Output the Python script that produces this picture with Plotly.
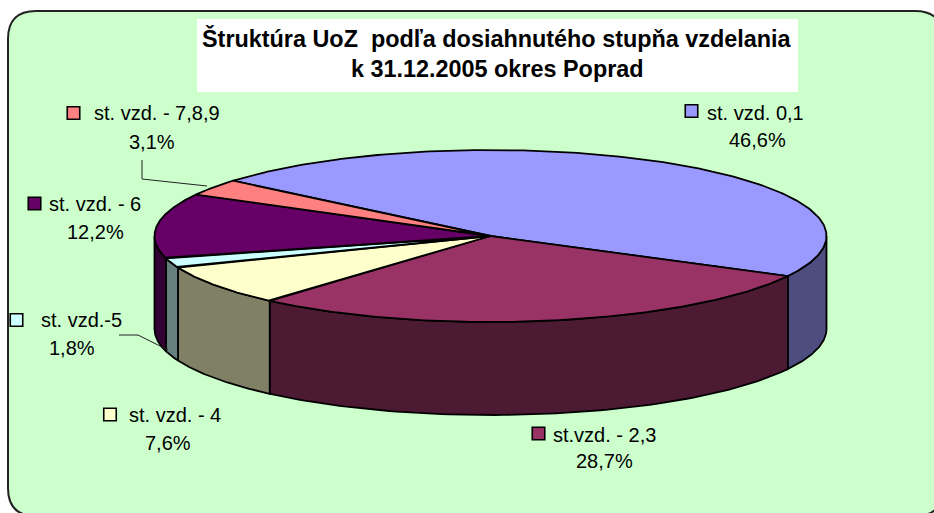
import numpy as np
import plotly.graph_objects as go

# ---- data ----
categories = ["st. vzd. 0,1", "st.vzd. - 2,3", "st. vzd. - 4", "st. vzd.-5", "st. vzd. - 6", "st. vzd. - 7,8,9"]
values = [46.6, 28.7, 7.6, 1.8, 12.2, 3.1]
title_lines = ["Štruktúra UoZ  podľa dosiahnutého stupňa vzdelania", "k 31.12.2005 okres Poprad"]

# ---- style ----
top_colors = ["#9999FF", "#993366", "#FFFFCC", "#CCFFFF", "#660066", "#FF8080"]
side_colors = ["#4D4D80", "#4D1A33", "#808066", "#668080", "#330033", "#804040"]
FONT = "Liberation Sans, Arial, sans-serif"
W, H = 934, 513
CX, CY, RX, RY, DEPTH = 490.5, 236, 336, 86, 93
START = 220   # angle where the first slice begins (clockwise on screen, 0 = east)

# label layout: key x, key y, first-line centre x, first-line y, second-line centre x, second-line y
key_x = [691.5, 538.5, 110, 16.5, 34.5, 73.5]
key_y = [111, 433.5, 414.5, 320, 203.5, 113]
name_x = [755.5, 604.5, 174.5, 81, 94.5, 157]
name_y = [113, 435, 415, 320, 204, 113]
pct_x = [757, 604, 168, 72, 95, 152]
pct_y = [140, 461, 443, 348, 232, 142]

# leader lines
leaders = [([142, 142, 207], [160, 179, 186]), ([119, 138, 168], [335, 335, 350])]


def ell(t, dz=0.0):
    r = np.radians(t)
    return CX + RX * np.cos(r), CY + RY * np.sin(r) + dz


fig = go.Figure()
fractions = np.array(values) / sum(values)
edges = START + np.concatenate([[0], np.cumsum(fractions) * 360])

line = dict(color="black", width=1.8)

# side walls (visible front half only, angles 0..180 mod 360)
for i in range(len(values)):
    a, b = edges[i], edges[i + 1]
    for off in (-360, 0, 360):
        lo, hi = max(a + off, 0), min(b + off, 180)
        if hi > lo:
            t = np.linspace(lo, hi, 80)
            xt, yt = ell(t)
            xb, yb = ell(t[::-1], DEPTH)
            fig.add_trace(go.Scatter(x=np.r_[xt, xb, xt[0]], y=np.r_[yt, yb, yt[0]], mode="lines",
                                     fill="toself", fillcolor=side_colors[i], line=line,
                                     hoverinfo="skip", showlegend=False))

# top faces
for i in range(len(values)):
    t = np.linspace(edges[i], edges[i + 1], 200)
    xt, yt = ell(t)
    fig.add_trace(go.Scatter(x=np.r_[CX, xt, CX], y=np.r_[CY, yt, CY], mode="lines", fill="toself",
                             fillcolor=top_colors[i], line=line, name=categories[i],
                             hoverinfo="skip", showlegend=False))

# leader lines
for lx, ly in leaders:
    fig.add_trace(go.Scatter(x=lx, y=ly, mode="lines", line=dict(color="#222222", width=1),
                             hoverinfo="skip", showlegend=False))

# legend keys
fig.add_trace(go.Scatter(x=key_x, y=key_y, mode="markers",
                         marker=dict(symbol="square", size=12.5, color=top_colors, line=dict(color="black", width=1.6)),
                         hoverinfo="skip", showlegend=False))

ann = []
for i, c in enumerate(categories):
    ann.append(dict(x=name_x[i], y=name_y[i], text=c, showarrow=False, xanchor="center", yanchor="middle",
                    font=dict(family=FONT, size=20, color="black")))
    ann.append(dict(x=pct_x[i], y=pct_y[i], text=f"{values[i]:.1f}%".replace(".", ","), showarrow=False,
                    xanchor="center", yanchor="middle", font=dict(family=FONT, size=20, color="black")))
ann.append(dict(x=497, y=38, text=title_lines[0], showarrow=False, xanchor="center", yanchor="middle",
                font=dict(family=FONT, size=23.4, color="black", weight="bold")))
ann.append(dict(x=497, y=69, text=title_lines[1], showarrow=False, xanchor="center", yanchor="middle",
                font=dict(family=FONT, size=23.4, color="black", weight="bold")))

L, T, R, B, Q = 8, 11, 943, 516, 28
border = (f"M {L+Q} {T} L {R-Q} {T} Q {R} {T} {R} {T+Q} L {R} {B-Q} Q {R} {B} {R-Q} {B} "
          f"L {L+Q} {B} Q {L} {B} {L} {B-Q} L {L} {T+Q} Q {L} {T} {L+Q} {T} Z")
shapes = [
    dict(type="path", path=border, xref="x", yref="y", fillcolor="#CCFFCC", line=dict(color="#222222", width=2), layer="below"),
    dict(type="rect", x0=197, x1=798, y0=19, y1=92, xref="x", yref="y", fillcolor="white", line=dict(width=0), layer="below"),
]

fig.update_layout(
    width=W, height=H, margin=dict(l=0, r=0, t=0, b=0), paper_bgcolor="white", plot_bgcolor="white",
    xaxis=dict(range=[0, W], visible=False, fixedrange=True),
    yaxis=dict(range=[H, 0], visible=False, fixedrange=True),
    annotations=ann, shapes=shapes,
)
fig.write_html("out.html", config=dict(displayModeBar=False),
               post_script="document.body.style.margin='0';document.body.style.overflow='hidden';")
